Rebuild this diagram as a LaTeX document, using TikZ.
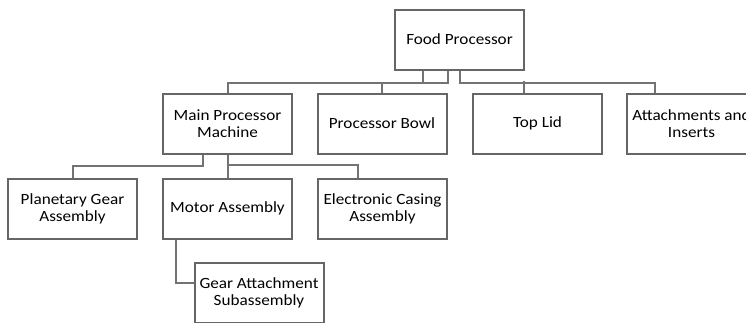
\documentclass[tikz,border=0pt]{standalone}
\usepackage{fontspec}
\setmainfont{Carlito}[FakeStretch=1.1]

\begin{document}
\begin{tikzpicture}[x=1pt,y=-1pt,
    box/.style={draw=gray!80!black, line width=2pt, minimum width=129pt,
        minimum height=60pt, inner sep=2pt, align=center,
        font=\fontsize{15.6}{16.7}\selectfont},
    link/.style={draw=gray!90!black, line width=2pt}]

    \clip (0,0) rectangle (746,322);

    \node [box] (fp) at (459.5,39.5) {Food Processor};

    \node [box] (main) at (227.5,123.5) {Main Processor\\Machine};
    \node [box] (bowl) at (382,123.5) {Processor Bowl};
    \node [box] (lid) at (537.5,123.5) {Top Lid};
    \node [box] (attach) at (691.5,123.5) {Attachments and\\Inserts};

    \node [box] (planet) at (72.5,208.5) {Planetary Gear\\Assembly};
    \node [box] (motor) at (227.5,208.5) {Motor Assembly};
    \node [box] (casing) at (382.5,208.5) {Electronic Casing\\Assembly};

    \node [box] (gear) at (259,293) {Gear Attachment\\Subassembly};

    \draw [link] ([xshift=-36.5pt]fp.south) -- ++(0,12) -| (main.north);
    \draw [link] ([xshift=-11.5pt]fp.south) -- ++(0,12) -| (bowl.north);
    \draw [link] (fp.south) -- ++(0,12) -| ([xshift=-36.5pt]attach.north);
    \draw [link] ([xshift=-13.5pt]lid.north) -- ++(0,-12);

    \draw [link] ([xshift=-24.5pt]main.south) -- ++(0,11) -| (planet.north);
    \draw [link] (main.south) -- (motor.north);
    \coordinate (busM) at (227.5,165);
    \draw [link] (busM) -| ([xshift=-24.5pt]casing.north);

    \draw [link] ([xshift=-51.5pt]motor.south) |- ([yshift=10pt]gear.west);

\end{tikzpicture}
\end{document}
